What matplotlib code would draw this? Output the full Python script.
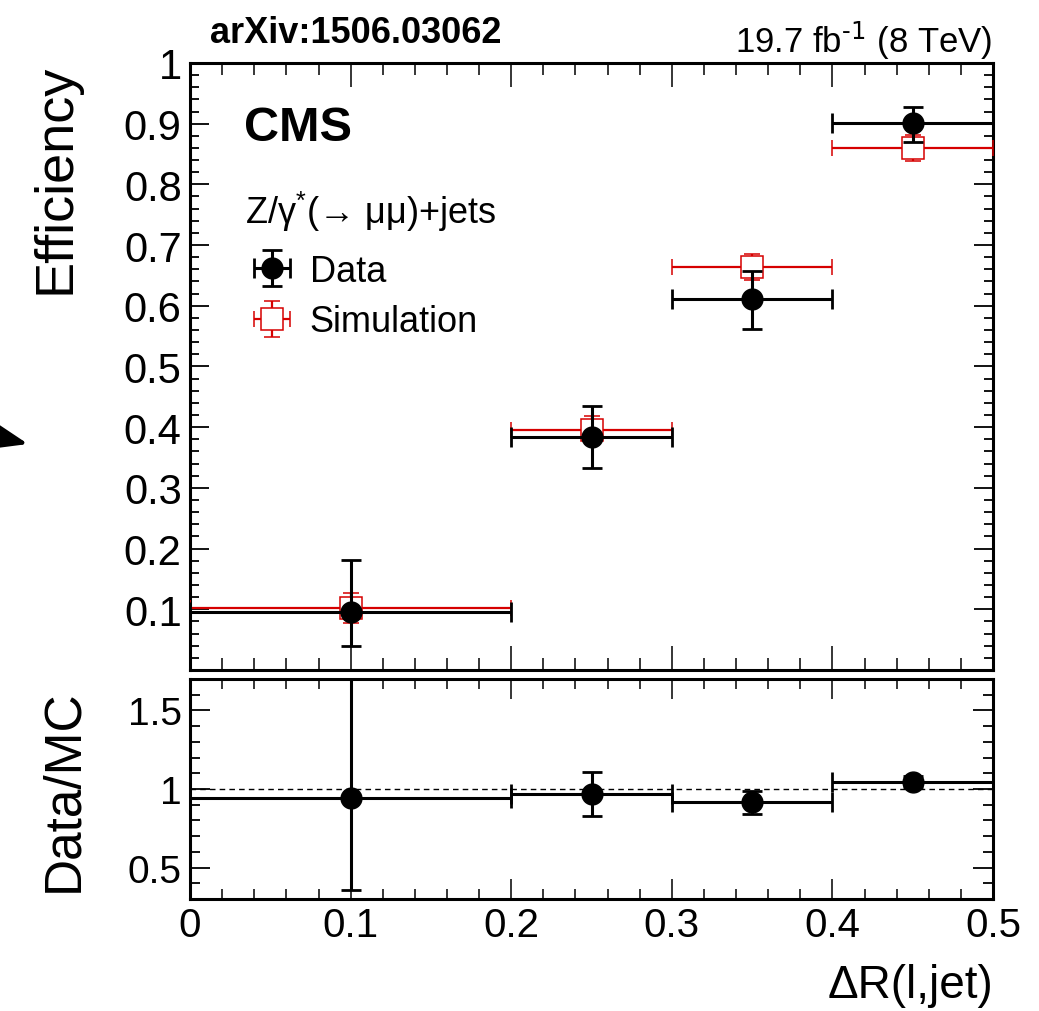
import numpy as np
import matplotlib
matplotlib.use('Agg')
import matplotlib.pyplot as plt
from matplotlib.ticker import MultipleLocator, FixedLocator

# Bins in Delta R(l, jet)
bin_lo = [0.0, 0.2, 0.3, 0.4]
bin_hi = [0.2, 0.3, 0.4, 0.5]

# Efficiency measured in data (asymmetric errors)
eff_data = [0.095, 0.383, 0.611, 0.901]
eff_data_down = [0.055, 0.051, 0.049, 0.031]
eff_data_up = [0.086, 0.052, 0.047, 0.027]

# Efficiency in simulation
eff_sim = [0.102, 0.395, 0.664, 0.860]
eff_sim_err = [0.024, 0.023, 0.022, 0.021]

# Data/MC ratio
ratio = [0.94, 0.965, 0.917, 1.045]
ratio_down = [0.585, 0.14, 0.075, 0.035]
ratio_up = [0.85, 0.14, 0.07, 0.035]

x_ticks = [0, 0.1, 0.2, 0.3, 0.4, 0.5]
x_tick_labels = ['0', '0.1', '0.2', '0.3', '0.4', '0.5']
eff_ticks = [0.1, 0.2, 0.3, 0.4, 0.5, 0.6, 0.7, 0.8, 0.9, 1.0]
eff_tick_labels = ['0.1', '0.2', '0.3', '0.4', '0.5', '0.6', '0.7', '0.8', '0.9', '1']
ratio_ticks = [0.5, 1.0, 1.5]
ratio_tick_labels = ['0.5', '1', '1.5']

RED = '#d60000'


def style_axes(ax, x_major_len, x_minor_len, y_major_len, y_minor_len):
    for s in ax.spines.values():
        s.set_linewidth(2.2)
    ax.xaxis.set_minor_locator(MultipleLocator(0.02))
    ax.tick_params(axis='x', which='major', direction='in', top=True, bottom=True,
                   length=x_major_len, width=1.1)
    ax.tick_params(axis='x', which='minor', direction='in', top=True, bottom=True,
                   length=x_minor_len, width=1.1)
    ax.tick_params(axis='y', which='major', direction='in', left=True, right=True,
                   length=y_major_len, width=1.3)
    ax.tick_params(axis='y', which='minor', direction='in', left=True, right=True,
                   length=y_minor_len, width=1.3)


def main():
    plt.rcParams['font.family'] = ['Liberation Sans', 'DejaVu Sans']
    plt.rcParams['mathtext.default'] = 'regular'

    fig = plt.figure(figsize=(10.39, 10.12), dpi=100)
    ax = fig.add_axes([0.1829, 0.337, 0.7728, 0.5998])
    rax = fig.add_axes([0.1829, 0.1107, 0.7728, 0.2174], sharex=ax)

    lo = np.array(bin_lo)
    hi = np.array(bin_hi)
    centers = (lo + hi) / 2
    half = (hi - lo) / 2

    # Efficiency panel
    h_sim = ax.errorbar(centers, eff_sim, xerr=half, yerr=eff_sim_err, fmt='s',
                        color=RED, ecolor=RED, elinewidth=1.6, capsize=5.5, capthick=1.6,
                        markersize=15.5, markerfacecolor='white', markeredgecolor=RED,
                        markeredgewidth=1.1, zorder=3)
    h_data = ax.errorbar(centers, eff_data, xerr=half, yerr=[eff_data_down, eff_data_up],
                         fmt='o', color='black', ecolor='black', elinewidth=2.2, capsize=7,
                         capthick=2.0, markersize=15, zorder=4)

    ax.set_xlim(0, 0.5)
    ax.set_ylim(0, 1.0)
    ax.yaxis.set_major_locator(FixedLocator(eff_ticks))
    ax.set_yticklabels(eff_tick_labels)
    ax.yaxis.set_minor_locator(MultipleLocator(0.02))
    style_axes(ax, 17, 8.5, 13.7, 6.8)
    ax.tick_params(axis='x', which='both', labelbottom=False)
    ax.tick_params(axis='y', which='major', labelsize=30, pad=6)

    ax.set_ylabel('Efficiency', fontsize=39, loc='top')
    ax.yaxis.set_label_coords(-0.137, 1.0)

    ax.text(0.067, 0.893, 'CMS', transform=ax.transAxes, fontsize=35,
            fontweight='bold', ha='left', va='center')

    leg = ax.legend([h_data, h_sim], ['Data', 'Simulation'],
                    title='Z/γ$^{*}$(→ μμ)+jets', title_fontsize=26, fontsize=26,
                    loc='upper left', bbox_to_anchor=(0.068, 0.783), frameon=False,
                    alignment='left', handlelength=1.5, handletextpad=0.3,
                    labelspacing=0.42, borderaxespad=0, borderpad=0)
    leg.get_title().set_y(6)

    fig.text(210 / 1039, 1 - 43 / 1012, 'arXiv:1506.03062', fontsize=26,
             fontweight='bold', ha='left', va='baseline')
    fig.text(992 / 1039, 1 - 53 / 1012, r'19.7 fb$^{\text{-1}}$ (8 TeV)', fontsize=25,
             ha='right', va='baseline')

    # Ratio panel
    rax.axhline(1.0, color='black', lw=1.0, ls=(0, (4, 3)), zorder=1)
    rax.errorbar(centers, ratio, xerr=half, yerr=[ratio_down, ratio_up], fmt='o',
                 color='black', ecolor='black', elinewidth=2.2, capsize=7, capthick=2.0,
                 markersize=15, zorder=4)
    rax.yaxis.set_major_locator(FixedLocator(ratio_ticks))
    rax.yaxis.set_minor_locator(MultipleLocator(0.1))
    rax.set_xticks(x_ticks)
    rax.set_xticklabels(x_tick_labels)
    rax.set_yticklabels(ratio_tick_labels)
    style_axes(rax, 14.4, 7.2, 14.4, 7.2)
    rax.tick_params(axis='x', which='major', labelsize=29, pad=5)
    rax.tick_params(axis='y', which='major', labelsize=28, pad=6)
    rax.set_xlim(0, 0.5)
    rax.set_ylim(0.3, 1.7)

    rax.set_ylabel('Data/MC', fontsize=37, loc='top')
    rax.yaxis.set_label_coords(-0.127, 0.955)
    rax.set_xlabel('ΔR(l,jet)', fontsize=33, loc='right')
    rax.xaxis.set_label_coords(1.0, -0.29)

    # small pointer at the left margin
    fig.add_artist(matplotlib.patches.FancyArrowPatch(
        (-0.01, 1 - 436 / 1012), (28 / 1039, 1 - 445 / 1012),
        transform=fig.transFigure, arrowstyle='-|>,head_length=0.8,head_width=0.3',
        mutation_scale=30, lw=3, color='black', shrinkA=0, shrinkB=0))

    fig.savefig('out.png', dpi=100)


if __name__ == '__main__':
    main()
